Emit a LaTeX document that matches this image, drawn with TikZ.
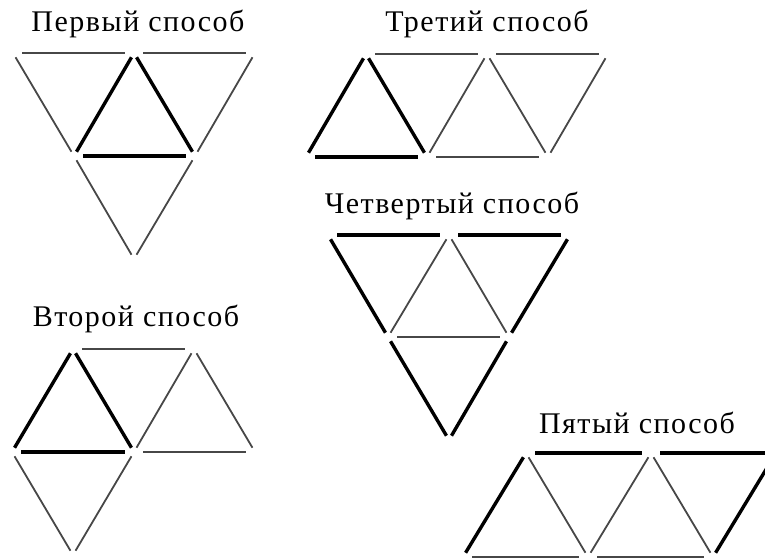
\documentclass[tikz,border=0pt]{standalone}
\usepackage{fontspec}
\setmainfont{Liberation Serif}[LetterSpace=5]
\tikzset{
  stick/.style={line width=1.8pt, black!72, shorten >=5pt, shorten <=5pt},
  boldstick/.style={stick, line width=3.4pt, black},
  hstick/.style={stick, shorten >=9pt, shorten <=9pt},
  boldhstick/.style={boldstick, shorten >=9pt, shorten <=9pt},
  heading/.style={anchor=base, inner sep=0pt, font=\fontsize{30}{34}\selectfont},
}
\begin{document}
\begin{tikzpicture}[x=1pt,y=-1pt]
	\useasboundingbox (0,0) rectangle (765,558);
	\clip (0,0) rectangle (765,558);
	% first way
	\node[heading] (t1) at (138,31) {Первый способ};
	\coordinate (a1) at (13,53);
	\coordinate (a2) at (134,53);
	\coordinate (a3) at (255,53);
	\coordinate (a4) at (74,156);
	\coordinate (a5) at (195,156);
	\coordinate (a6) at (134,259);
	\foreach \p/\q/\s in {a1/a2/hstick, a2/a3/hstick, a1/a4/stick, a3/a5/stick,
		a4/a6/stick, a5/a6/stick, a2/a4/boldstick, a2/a5/boldstick, a4/a5/boldhstick}
	{\draw[\s] (\p) -- (\q);}
	% second way
	\node[heading] (t2) at (136,326) {Второй способ};
	\coordinate (b1) at (73,349);
	\coordinate (b2) at (194,349);
	\coordinate (b3) at (12,452);
	\coordinate (b4) at (134,452);
	\coordinate (b5) at (255,452);
	\coordinate (b6) at (73,555);
	\foreach \p/\q/\s in {b1/b2/hstick, b4/b2/stick, b2/b5/stick, b4/b5/hstick,
		b3/b6/stick, b4/b6/stick, b3/b1/boldstick, b1/b4/boldstick, b3/b4/boldhstick}
	{\draw[\s] (\p) -- (\q);}
	% third way
	\node[heading] (t3) at (487,31) {Третий способ};
	\coordinate (c1) at (366,54);
	\coordinate (c2) at (487,54);
	\coordinate (c3) at (608,54);
	\coordinate (c4) at (306,157);
	\coordinate (c5) at (427,157);
	\coordinate (c6) at (548,157);
	\foreach \p/\q/\s in {c1/c2/hstick, c2/c5/stick, c5/c6/hstick, c2/c3/hstick,
		c2/c6/stick, c3/c6/stick, c4/c1/boldstick, c1/c5/boldstick, c4/c5/boldhstick}
	{\draw[\s] (\p) -- (\q);}
	% fourth way
	\node[heading] (t4) at (452,213) {Четвертый способ};
	\coordinate (d1) at (328,235);
	\coordinate (d2) at (449,235);
	\coordinate (d3) at (570,235);
	\coordinate (d4) at (388,337);
	\coordinate (d5) at (509,337);
	\coordinate (d6) at (449,440);
	\foreach \p/\q/\s in {d2/d4/stick, d2/d5/stick, d4/d5/hstick, d1/d2/boldhstick,
		d2/d3/boldhstick, d1/d4/boldstick, d3/d5/boldstick, d4/d6/boldstick, d5/d6/boldstick}
	{\draw[\s] (\p) -- (\q);}
	% fifth way
	\node[heading] (t5) at (637,433) {Пятый способ};
	\coordinate (e1) at (526,453);
	\coordinate (e2) at (651,453);
	\coordinate (e3) at (776,453);
	\coordinate (e4) at (463,557);
	\coordinate (e5) at (588,557);
	\coordinate (e6) at (713,557);
	\foreach \p/\q/\s in {e1/e5/stick, e5/e2/stick, e2/e6/stick, e4/e5/hstick,
		e5/e6/hstick, e4/e1/boldstick, e1/e2/boldhstick, e2/e3/boldhstick, e6/e3/boldstick}
	{\draw[\s] (\p) -- (\q);}
\end{tikzpicture}
\end{document}
